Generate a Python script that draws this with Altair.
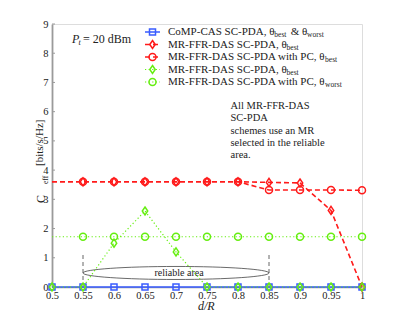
import altair as alt
import pandas as pd

# ---------------- data ----------------
d_over_R = [0.5, 0.55, 0.6, 0.65, 0.7, 0.75, 0.8, 0.85, 0.9, 0.95, 1.0]
comp_cas = [0, 0, 0, 0, 0, 0, 0, 0, 0, 0, 0]
mr_best = [3.6, 3.6, 3.6, 3.6, 3.6, 3.6, 3.6, 3.58, 3.56, 2.62, 0.0]
mr_pc_best = [3.6, 3.6, 3.6, 3.6, 3.6, 3.6, 3.6, 3.32, 3.32, 3.32, 3.31]
mr_best_g = [0, 0, 1.5, 2.6, 1.2, 0, 0, 0, 0, 0, 0]
mr_pc_worst = [1.72, 1.72, 1.72, 1.72, 1.72, 1.72, 1.72, 1.72, 1.72, 1.72, 1.72]
marker_start = [0, 1, 1, 0, 1]  # first index that carries a marker
x_ticks = d_over_R
y_ticks = [0, 1, 2, 3, 4, 5, 6, 7, 8, 9]
reliable_bounds = [0.55, 0.85]

BLUE = "#3a5cff"
RED = "#ff1a1a"
GREEN = "#66ee11"
FONT = "Liberation Serif"

DIAMOND = "M0,-1 L0.68,0 L0,1 L-0.68,0 Z"
ELLIPSE = "M-1,0 A1,0.07 0 1,1 1,0 A1,0.07 0 1,1 -1,0 Z"

series = [
    dict(vals=comp_cas, color=BLUE, dash=[1, 0], width=1.4, shape="square", size=36),
    dict(vals=mr_best, color=RED, dash=[5, 3], width=1.6, shape=DIAMOND, size=64),
    dict(vals=mr_pc_best, color=RED, dash=[5, 3], width=1.6, shape="circle", size=49),
    dict(vals=mr_best_g, color=GREEN, dash=[1.2, 2.4], width=1.2, shape=DIAMOND, size=64),
    dict(vals=mr_pc_worst, color=GREEN, dash=[1.2, 2.4], width=1.2, shape="circle", size=49),
]

W, H = 310, 263

xscale = alt.Scale(domain=[0.5, 1.0], nice=False, zero=False)
yscale = alt.Scale(domain=[0, 9], nice=False)
xaxis = alt.Axis(values=x_ticks, format=".2~f", grid=False, ticks=False, labelFlush=False,
                 domainColor="#9a9a9a", domainWidth=1.5, labelFont=FONT,
                 labelFontSize=10.5, labelColor="#222", labelPadding=3, title=None)
yaxis = alt.Axis(values=y_ticks, grid=False, ticks=False, labelFlush=False,
                 domainColor="#9a9a9a", domainWidth=1.8, labelFont=FONT, labelFontSize=10.5,
                 labelColor="#222", labelPadding=4, title=None)


def X(field):
    return alt.X(field, type="quantitative", scale=xscale, axis=xaxis)


def Y(field):
    return alt.Y(field, type="quantitative", scale=yscale, axis=yaxis)


layers = []

# inward y ticks
tick_df = pd.DataFrame({"v": y_ticks})
layers.append(alt.Chart(tick_df).mark_rule(color="#9a9a9a", strokeWidth=1).encode(
    y=Y("v"), x=alt.value(0), x2=alt.value(3)))

# reliable area markers
rel_df = pd.DataFrame({"x": reliable_bounds, "y0": [0, 0], "y1": [1.1, 1.1]})
layers.append(alt.Chart(rel_df).mark_rule(color="#555", strokeDash=[4, 3], strokeWidth=0.9).encode(
    x=X("x"), y=Y("y0"), y2="y1"))

ell_df = pd.DataFrame({"x": [0.7], "y": [0.48]})
layers.append(alt.Chart(ell_df).mark_point(shape=ELLIPSE, size=186 ** 2, filled=False,
                                            color="#444", strokeWidth=0.8, opacity=1).encode(
    x=X("x"), y=Y("y")))
layers.append(alt.Chart(pd.DataFrame({"x": [0.705], "y": [0.48], "t": ["reliable area"]}))
              .mark_text(font=FONT, fontSize=10, color="#222", align="center", baseline="middle")
              .encode(x=X("x"), y=Y("y"), text="t:N"))

# series lines and markers
for s, ms in zip(series, marker_start):
    df = pd.DataFrame({"x": d_over_R, "y": s["vals"]})
    layers.append(alt.Chart(df).mark_line(color=s["color"], strokeDash=s["dash"],
                                          strokeWidth=s["width"]).encode(x=X("x"), y=Y("y")))
    layers.append(alt.Chart(df.iloc[ms:]).mark_point(shape=s["shape"], size=s["size"],
                                                     filled=False, color=s["color"],
                                                     strokeWidth=1.5, opacity=1)
                  .encode(x=X("x"), y=Y("y")))

# ---------------- legend ----------------
TW = {' ': 250, ',': 250, '-': 333, '.': 250, '/': 278, '&': 778, 'θ': 470,
      'A': 722, 'C': 667, 'D': 722, 'F': 556, 'M': 889, 'O': 722, 'P': 556, 'R': 667, 'S': 556,
      'a': 444, 'b': 500, 'e': 444, 'h': 500, 'i': 278, 'o': 500, 'r': 333, 's': 389,
      't': 278, 'w': 722}


def tw(s, size):
    return sum(TW.get(c, 500) for c in s) * size / 1000.0


leg_rows = [
    [("CoMP-CAS SC-PDA, θ", 0), ("best", 1), ("&", 0), ("θ", 0), ("worst", 1)],
    [("MR-FFR-DAS SC-PDA, θ", 0), ("best", 1)],
    [("MR-FFR-DAS SC-PDA with PC, θ", 0), ("best", 1)],
    [("MR-FFR-DAS SC-PDA, θ", 0), ("best", 1)],
    [("MR-FFR-DAS SC-PDA with PC, θ", 0), ("worst", 1)],
]
row_y = [8, 20.5, 33, 45.5, 58]
MAIN, SUB = 11, 7.5
pieces = []
for r, yy in zip(leg_rows, row_y):
    xx = 116
    for txt, sub in r:
        sz = SUB if sub else MAIN
        if txt == "&":
            xx += 3
        if txt == "θ" and r[0][0] != txt:
            xx += 2.5
        pieces.append({"t": txt, "px": xx, "py": yy + (3 if sub else 0), "sz": sz})
        xx += tw(txt, sz) * (1.12 if sub else 1.0)

# P_t annotation & note text
pieces += [
    {"t": "= 20 dBm", "px": 31, "py": 15, "sz": 12},
]
note = ["All MR-FFR-DAS", "SC-PDA", "schemes use an MR", "selected in the reliable", "area."]
for i, line in enumerate(note):
    pieces.append({"t": line, "px": 178.5, "py": 82 + i * 12.3, "sz": 10.5})

txt_df = pd.DataFrame(pieces)
layers.append(alt.Chart(txt_df).mark_text(font=FONT, align="left", baseline="middle", color="#222")
              .encode(x=alt.X("px:Q", scale=None), y=alt.Y("py:Q", scale=None),
                      size=alt.Size("sz:Q", scale=None, legend=None), text="t:N"))

ital = pd.DataFrame([
    {"t": "P", "px": 20, "py": 15, "sz": 12},
    {"t": "t", "px": 26.5, "py": 18.5, "sz": 8},
    {"t": "d/R", "px": 146, "py": 282, "sz": 12},
])
layers.append(alt.Chart(ital).mark_text(font=FONT, fontStyle="italic", align="left",
                                        baseline="middle", color="#222")
              .encode(x=alt.X("px:Q", scale=None), y=alt.Y("py:Q", scale=None),
                      size=alt.Size("sz:Q", scale=None, legend=None), text="t:N"))

# y title (rotated)
ytitle = pd.DataFrame([
    {"t": "C", "px": -11.5, "py": 179, "sz": 12},
    {"t": "eff", "px": -6.5, "py": 160, "sz": 7.5},
    {"t": "[bits/s/Hz]", "px": -12, "py": 142, "sz": 11},
])
layers.append(alt.Chart(ytitle).mark_text(font=FONT, angle=270, align="left",
                                          baseline="middle", color="#222")
              .encode(x=alt.X("px:Q", scale=None), y=alt.Y("py:Q", scale=None),
                      size=alt.Size("sz:Q", scale=None, legend=None), text="t:N"))

# legend symbols
for s, yy in zip(series, row_y):
    ldf = pd.DataFrame({"x0": [93], "x1": [108], "xm": [100.5], "y": [yy]})
    layers.append(alt.Chart(ldf).mark_rule(color=s["color"], strokeDash=s["dash"],
                                           strokeWidth=s["width"])
                  .encode(x=alt.X("x0:Q", scale=None), x2="x1",
                          y=alt.Y("y:Q", scale=None)))
    layers.append(alt.Chart(ldf).mark_point(shape=s["shape"], size=s["size"], filled=False,
                                            color=s["color"], strokeWidth=1.5, opacity=1)
                  .encode(x=alt.X("xm:Q", scale=None), y=alt.Y("y:Q", scale=None)))

chart = alt.layer(*layers).properties(
    width=W, height=H,
    autosize=alt.AutoSizeParams(type="none"),
    padding={"left": 44, "top": 16, "right": 20, "bottom": 25},
).configure_view(stroke=None).configure(background="white")

chart.save("out.html", embed_options={"renderer": "svg", "actions": False})
